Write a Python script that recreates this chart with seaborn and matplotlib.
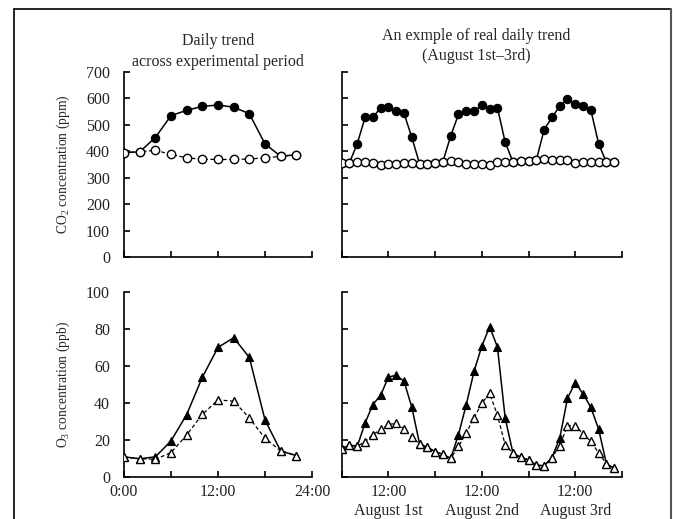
import matplotlib
matplotlib.use('Agg')
from matplotlib import pyplot as plt
from matplotlib.lines import Line2D
import seaborn as sns

sns.set_style('ticks')
plt.rcParams['font.family'] = ['Liberation Serif', 'DejaVu Serif']
plt.rcParams['mathtext.fontset'] = 'custom'
plt.rcParams['mathtext.rm'] = 'Liberation Serif'
plt.rcParams['font.size'] = 11.5

# daily trend, every 2 h
hours_day = [0, 2, 4, 6, 8, 10, 12, 14, 16, 18, 20, 22]
co2_elev_day = [395, 398, 452, 535, 555, 570, 575, 567, 542, 428, 381, 387]
co2_amb_day = [395, 398, 404, 388, 375, 370, 369, 369, 371, 375, 381, 387]
o3_elev_day = [11, 10, 11, 19.6, 33.8, 53.9, 70, 75.2, 64.6, 30.9, 14.2, 11.7]
o3_amb_day = [11, 10, 9.7, 13.3, 22.8, 33.9, 41.7, 41, 32, 21, 14.2, 11.7]

# August 1st-3rd, every 2 h
hours_real = list(range(0, 72, 2))
co2_amb_real = [354, 357, 361, 358, 354, 349, 352, 352, 354, 356, 353, 353,
                356, 361, 363, 359, 353, 352, 353, 349, 361, 361, 359, 362,
                362, 367, 369, 368, 366, 366, 357, 358, 361, 361, 358, 361]
co2_elev_real = [354, 357, 429, 528, 528, 565, 567, 552, 544, 453, 353, 353,
                 356, 361, 458, 540, 553, 552, 575, 559, 565, 434, 359, 362,
                 362, 367, 482, 528, 571, 598, 579, 573, 556, 428, 358, 361]
o3_amb_real = [15.5, 17.4, 16.7, 19.2, 22.9, 25.8, 28.5, 29.0, 26.2, 21.5, 18.1, 16.1,
               13.9, 12.3, 10.2, 16.6, 24.0, 32.0, 40.0, 45.2, 33.5, 17.4, 13.0, 10.8,
               9.3, 6.6, 6.2, 10.6, 17.0, 27.8, 27.8, 23.5, 19.4, 13.1, 7.3, 4.9]
o3_elev_real = [15.5, 17.4, 16.7, 29.2, 39.2, 44.2, 54.0, 55.0, 51.8, 37.8, 18.1, 16.1,
                13.9, 12.3, 10.2, 23.0, 39.2, 57.1, 70.7, 81.1, 70.2, 31.8, 13.0, 10.8,
                9.3, 6.6, 6.2, 10.6, 21.0, 42.6, 51.0, 44.9, 37.7, 25.9, 7.3, 4.9]

day_ticks = [0, 6, 12, 18, 24]
day_labels = ['0:00', '', '12:00', '', '24:00']
real_ticks = [0, 12, 24, 36, 48, 60, 72]
real_labels = ['', '12:00\nAugust 1st', '', '12:00\nAugust 2nd', '', '12:00\nAugust 3rd', '']

fig = plt.figure(figsize=(6.73, 5.19), dpi=100)
W, H = 673, 519


def axes_at(x0, x1, ytop, ybot):
    return fig.add_axes([x0 / W, 1 - ybot / H, (x1 - x0) / W, (ybot - ytop) / H])


ax_tl = axes_at(124, 312, 72, 257)
ax_tr = axes_at(341.7, 622, 72, 257)
ax_bl = axes_at(124, 312, 291.7, 477.3)
ax_br = axes_at(341.7, 622, 291.7, 477.3)


def draw(ax, x, elev, amb, marker, ms):
    sns.lineplot(x=x, y=elev, ax=ax, color='black', lw=1.1, marker=marker, ms=ms,
                 mfc='black', mec='black', mew=0.8, zorder=3)
    sns.lineplot(x=x, y=amb, ax=ax, color='black', lw=0.9, ls=(0, (3, 2)), marker=marker,
                 ms=ms, mfc='white', mec='black', mew=1.0, zorder=4)


draw(ax_tl, hours_day, co2_elev_day, co2_amb_day, 'o', 6.0)
draw(ax_tr, hours_real, co2_elev_real, co2_amb_real, 'o', 6.0)
draw(ax_bl, hours_day, o3_elev_day, o3_amb_day, '^', 5.8)
draw(ax_br, hours_real, o3_elev_real, o3_amb_real, '^', 5.8)

for ax in (ax_tl, ax_tr):
    ax.set_ylim(0, 700)
    ax.set_yticks(range(0, 701, 100))
for ax in (ax_bl, ax_br):
    ax.set_ylim(0, 100)
    ax.set_yticks(range(0, 101, 20))
for ax in (ax_tl, ax_bl):
    ax.set_xlim(0, 24)
    ax.set_xticks(day_ticks)
for ax in (ax_tr, ax_br):
    ax.set_xlim(0, 72)
    ax.set_xticks(real_ticks)

ax_bl.set_xticklabels(day_labels)
ax_br.set_xticklabels(real_labels)
for ax in (ax_tl, ax_tr):
    ax.set_xticklabels([])
for ax in (ax_tr, ax_br):
    ax.set_yticklabels([])

for ax in (ax_tl, ax_tr, ax_bl, ax_br):
    sns.despine(ax=ax)
    ax.set_facecolor('none')
    for s in ('left', 'bottom'):
        ax.spines[s].set_linewidth(1.2)
        ax.spines[s].set_color('black')
    ax.tick_params(axis='both', direction='in', length=4, width=1.2, colors='black',
                   labelsize=11.5)
    ax.tick_params(axis='y', pad=10)
    ax.tick_params(axis='x', pad=5)
    ax.set_xlabel('')
    ax.set_ylabel('')
    for lab in ax.get_xticklabels() + ax.get_yticklabels():
        lab.set_color('#222222')
ax_br.tick_params(axis='x', pad=5)

ax_tl.set_ylabel('CO$_{\\mathrm{2}}$ concentration (ppm)', fontsize=9.8)
ax_bl.set_ylabel('O$_{\\mathrm{3}}$ concentration (ppb)', fontsize=9.8)
for ax in (ax_tl, ax_bl):
    ax.yaxis.set_label_coords(-0.275, 0.5)

ax_tl.set_title('Daily trend\nacross experimental period', fontsize=11.5, pad=4,
                linespacing=1.45)
ax_tr.set_title('An exmple of real daily trend\n(August 1st\u20133rd)', fontsize=11.5,
                pad=9, linespacing=1.25, x=0.479)

# outer frame
fig.add_artist(Line2D([14 / W, 14 / W], [0, 1 - 9 / H], color='black', lw=1.2))
fig.add_artist(Line2D([14 / W, 671 / W], [1 - 9 / H, 1 - 9 / H], color='black', lw=1.2))
fig.add_artist(Line2D([671 / W, 671 / W], [0, 1 - 9 / H], color='#555555', lw=1.5))

plt.savefig('out.png', dpi=100)
